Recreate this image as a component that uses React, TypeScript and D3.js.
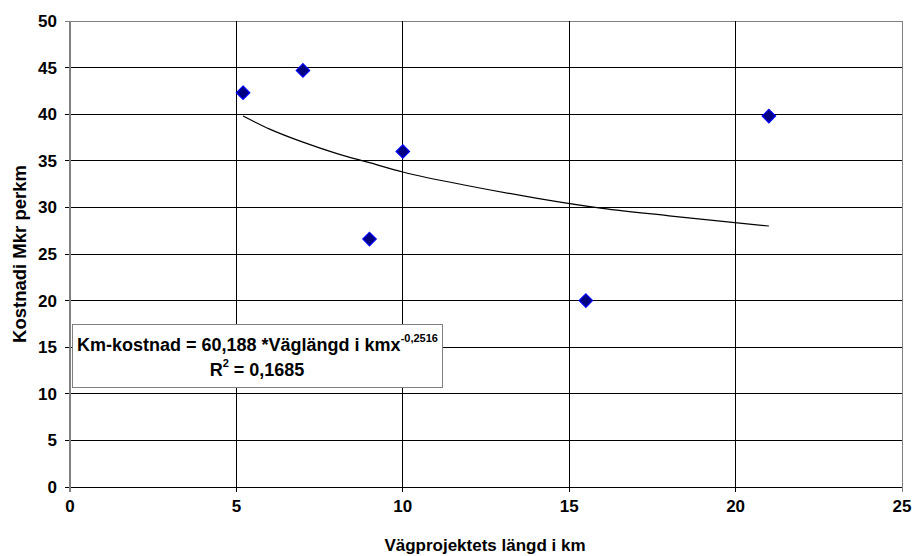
import React from "react";
import * as d3 from "d3";

const W = 913;
const H = 556;
const margin = { top: 21, right: 11, bottom: 69, left: 70 };

// Vägprojektets längd i km / Kostnad i Mkr per km
const lengthKm = [5.2, 7, 9, 10, 15.5, 21];
const costPerKm = [42.3, 44.7, 26.6, 36, 20, 39.8];

// trendline
const trendX = [5.2, 6, 7, 8, 9, 10, 12, 14, 16, 18, 21];
const trendY = [39.8, 38.4, 37.0, 35.8, 34.8, 33.8, 32.3, 31.0, 29.9, 29.1, 28.0];

const xTicks = [0, 5, 10, 15, 20, 25];
const yTicks = [0, 5, 10, 15, 20, 25, 30, 35, 40, 45, 50];

const font = "Arial, 'Liberation Sans', sans-serif";

export default function App() {
  const iw = W - margin.left - margin.right;
  const ih = H - margin.top - margin.bottom;
  const x = d3.scaleLinear().domain([0, 25]).range([0, iw]);
  const y = d3.scaleLinear().domain([0, 50]).range([ih, 0]);

  const line = d3
    .line<number>()
    .x((d) => x(d))
    .y((_, i) => y(trendY[i]))
    .curve(d3.curveMonotoneX);

  const diamond = d3.symbol().type(d3.symbolDiamond2).size(115)();

  return (
    <svg
      width={W}
      height={H}
      style={{ position: "absolute", left: 0, top: 0, fontFamily: font }}
    >
      <rect width={W} height={H} fill="#fff" />
      <g transform={`translate(${margin.left},${margin.top})`}>
        {yTicks.map((t) => (
          <g key={"y" + t}>
            <line x1={-5} x2={iw} y1={y(t)} y2={y(t)} stroke={t === 50 ? "#808080" : "#000"} strokeWidth={1} shapeRendering="crispEdges" />
            <text x={-13} y={y(t) + 6} textAnchor="end" fontSize={17} fontWeight="bold">
              {t}
            </text>
          </g>
        ))}
        {xTicks.map((t) => (
          <g key={"x" + t}>
            <line x1={x(t)} x2={x(t)} y1={0} y2={ih + 5} stroke={t === 25 || t === 0 ? "#808080" : "#000"} strokeWidth={1} shapeRendering="crispEdges" />
            <text x={x(t)} y={ih + 25} textAnchor="middle" fontSize={17} fontWeight="bold">
              {t}
            </text>
          </g>
        ))}
        <line x1={0} x2={iw} y1={ih} y2={ih} stroke="#000" strokeWidth={1} shapeRendering="crispEdges" />
        <line x1={0} x2={0} y1={0} y2={ih + 5} stroke="#808080" strokeWidth={2} shapeRendering="crispEdges" />

        <path d={line(trendX) ?? ""} fill="none" stroke="#000" strokeWidth={1.2} />

        {lengthKm.map((d, i) => (
          <path
            key={i}
            d={diamond ?? ""}
            transform={`translate(${x(d)},${y(costPerKm[i])})`}
            fill="#000080"
            stroke="#0000ff"
            strokeWidth={1.2}
          />
        ))}

        <g transform="translate(2,303)">
          <rect x={0} y={0} width={370} height={63} fill="#fff" stroke="#808080" strokeWidth={1} shapeRendering="crispEdges" />
          <text x={5} y={27} fontSize={18} fontWeight="bold">
            Km-kostnad = 60,188 *Väglängd i kmx
            <tspan dy={-9} fontSize={11}>-0,2516</tspan>
          </text>
          <text x={185} y={52} textAnchor="middle" fontSize={18} fontWeight="bold">
            R<tspan dy={-9} fontSize={11}>2</tspan>
            <tspan dy={9}> = 0,1685</tspan>
          </text>
        </g>
      </g>
      <text x={485} y={551} textAnchor="middle" fontSize={17} fontWeight="bold">
        Vägprojektets längd i km
      </text>
      <text
        transform={`translate(26,${margin.top + ih / 2}) rotate(-90)`}
        textAnchor="middle"
        fontSize={18.5}
        fontWeight="bold"
      >
        Kostnadi Mkr perkm
      </text>
    </svg>
  );
}
